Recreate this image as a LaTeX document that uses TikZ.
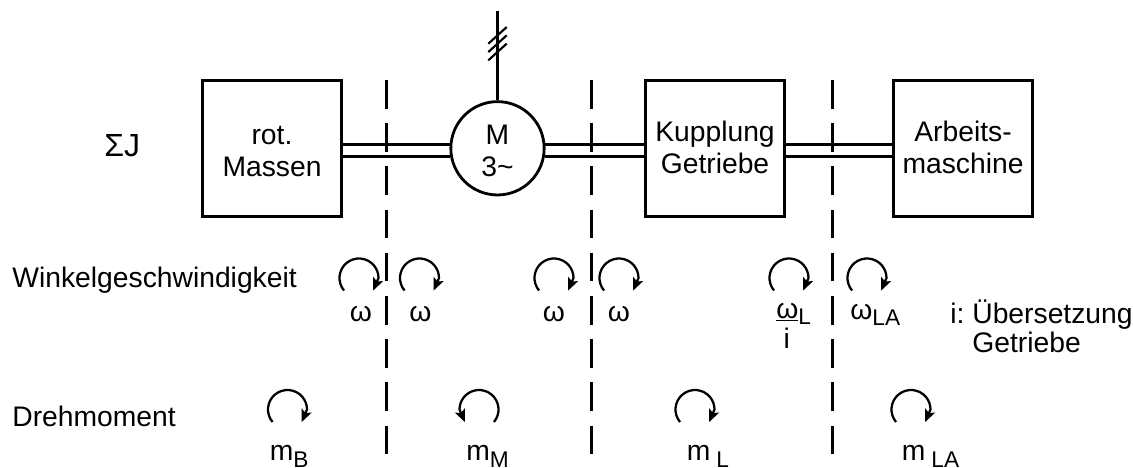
\documentclass[tikz,border=0pt]{standalone}
\usepackage{fontspec}
\setmainfont{Liberation Sans}
\usetikzlibrary{arrows.meta}
\usetikzlibrary{shapes.geometric}
\newcommand{\tief}[1]{\raisebox{-0.23em}{\fontsize{17}{17}\selectfont #1}}
\begin{document}
\begin{tikzpicture}[x=0.75pt,y=-0.75pt,line width=2.1pt,
		block/.style={draw, minimum width=104pt, minimum height=102.5pt, inner sep=0pt, align=center, font=\fontsize{21.2}{24}\selectfont},
		label/.style={inner sep=0pt, anchor=base west, font=\fontsize{21.2}{25}\selectfont},
		sym/.style={inner sep=0pt, anchor=base, font=\fontsize{21.2}{25}\selectfont},
		trenn/.style={line width=2.2pt, dash pattern=on 21.5pt off 10.9pt},
		turn/.style={-{Stealth[length=9.5pt,width=8pt,inset=2pt]}, line width=1.7pt},
	]
	\useasboundingbox (0,0) rectangle (1133,468);

	\node[block] (massen) at (272,148.5) {\rule{0pt}{18.8pt}rot.\\Massen};
	\node[block] (kupplung) at (715,148.5) {Kupplung\\Getriebe\rule[-1.7pt]{0pt}{1.7pt}};
	\node[block] (arbeit) at (963,148.5) {Arbeits-\\maschine\rule[-1.7pt]{0pt}{1.7pt}};
	\node[draw, circle, minimum size=70pt, inner sep=0pt, align=center, font=\fontsize{21.2}{24}\selectfont] (motor) at (497.5,148.3) {\rule{0pt}{19pt}M\\3\char`~};
	\node[label] (sumj) at (103,156) {\fontsize{24}{25}\selectfont ΣJ};

	% wellen
	\draw (massen.east |- motor.175) -- (motor.175);
	\draw (massen.east |- motor.190) -- (motor.190);
	\draw (motor.5) -- (kupplung.west |- motor.5);
	\draw (motor.-10) -- (kupplung.west |- motor.-10);
	\draw (kupplung.east |- motor.5) -- (arbeit.west |- motor.5);
	\draw (kupplung.east |- motor.-10) -- (arbeit.west |- motor.-10);

	% zuleitung
	\coordinate (netz) at (497.5,11);
	\draw (netz) -- (motor.north);
	\draw[line width=1.6pt] (motor.north)++(-9.2,-56.5) --++(18.4,-16.7);
	\draw[line width=1.6pt] (motor.north)++(-9.2,-48.2) --++(18.4,-16.7);
	\draw[line width=1.6pt] (motor.north)++(-9.2,-39.9) --++(18.4,-16.7);

	% trennlinien
	\coordinate (t1) at (386.4,80);
	\coordinate (b1) at (386.4,455);
	\coordinate (t2) at (591.4,80);
	\coordinate (b2) at (591.4,455);
	\coordinate (t3) at (832.4,80);
	\coordinate (b3) at (832.4,455);
	\draw[trenn] (t1) -- (b1);
	\draw[trenn] (t2) -- (b2);
	\draw[trenn] (t3) -- (b3);

	% winkelgeschwindigkeit
	\node[label] (winkel) at (11,287) {Winkelgeschwindigkeit};
	\coordinate (w1) at (359,278);
	\coordinate (w2) at (419.5,278);
	\coordinate (w3) at (554,278);
	\coordinate (w4) at (619,278);
	\coordinate (w5) at (789,278);
	\coordinate (w6) at (867,278);
	\draw[turn] (w1)++(140:19.5) arc[start angle=140, end angle=360, radius=19.5] --++(-5.5,12.7);
	\draw[turn] (w2)++(140:19.5) arc[start angle=140, end angle=360, radius=19.5] --++(-5.5,12.7);
	\draw[turn] (w3)++(140:19.5) arc[start angle=140, end angle=360, radius=19.5] --++(-5.5,12.7);
	\draw[turn] (w4)++(140:19.5) arc[start angle=140, end angle=360, radius=19.5] --++(-5.5,12.7);
	\draw[turn] (w5)++(140:19.5) arc[start angle=140, end angle=360, radius=19.5] --++(-5.5,12.7);
	\draw[turn] (w6)++(140:19.5) arc[start angle=140, end angle=360, radius=19.5] --++(-5.5,12.7);
	\node[sym] (om1) at (361,321) {ω};
	\node[sym] (om2) at (420.5,321) {ω};
	\node[sym] (om3) at (554,321) {ω};
	\node[sym] (om4) at (619,321) {ω};
	\node[label] (om5) at (775,318) {\underline{ω}\tief{L}};
	\node[sym] (om5i) at (786.7,348) {i};
	\node[label] (om6) at (849,319) {ω\tief{LA}};
	\node[label] (ueber) at (949,323) {i:~Übersetzung};
	\node[label] (getr) at (971,352) {Getriebe};

	% drehmoment
	\node[label] (dreh) at (11,426.5) {Drehmoment};
	\coordinate (m1) at (287.5,409.5);
	\coordinate (m2) at (479,409.5);
	\coordinate (m3) at (695,409.5);
	\coordinate (m4) at (911,409.5);
	\draw[turn] (m1)++(140:19.5) arc[start angle=140, end angle=360, radius=19.5] --++(-5.5,12.7);
	\draw[turn] (m2)++(40:19.5) arc[start angle=40, end angle=-180, radius=19.5] --++(5.5,12.7);
	\draw[turn] (m3)++(140:19.5) arc[start angle=140, end angle=360, radius=19.5] --++(-5.5,12.7);
	\draw[turn] (m4)++(140:19.5) arc[start angle=140, end angle=360, radius=19.5] --++(-5.5,12.7);
	\node[label] (mb) at (268.5,460.5) {m\tief{B}};
	\node[label] (mm) at (465,460.5) {m\tief{M}};
	\node[label] (ml) at (685.5,460.5) {m\hspace{4.5pt}\tief{L}};
	\node[label] (mla) at (900.5,460.5) {m\hspace{4.5pt}\tief{LA}};
\end{tikzpicture}
\end{document}
